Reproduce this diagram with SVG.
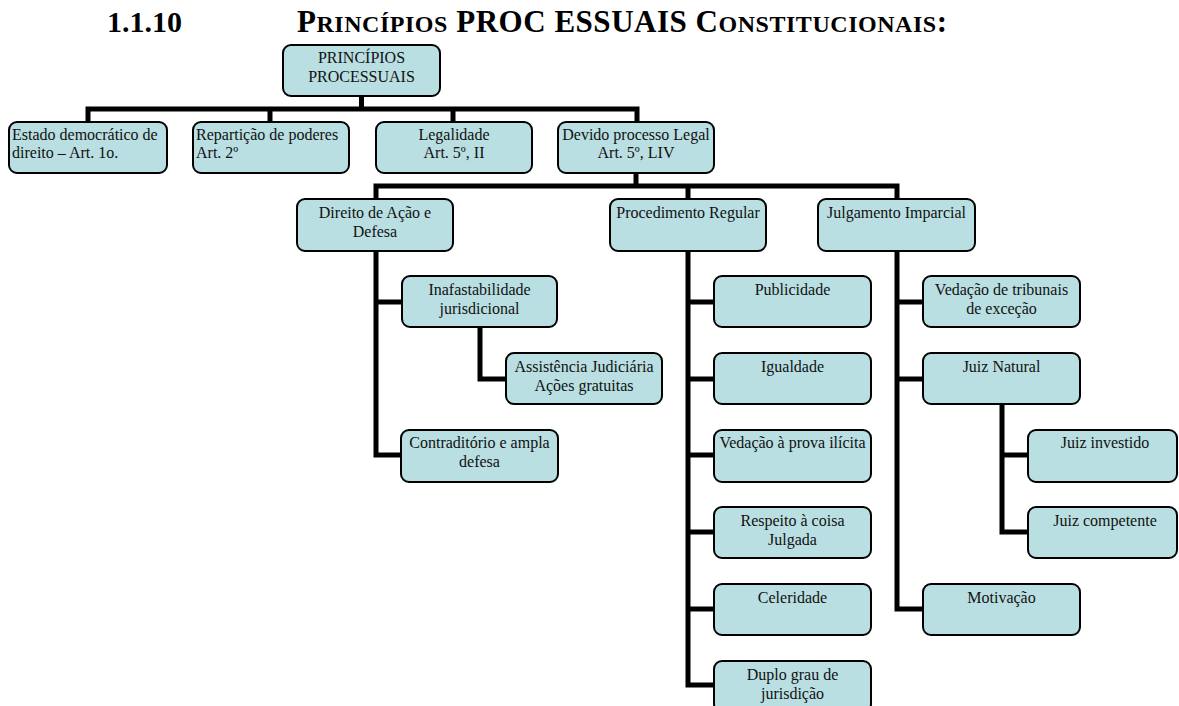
<svg xmlns="http://www.w3.org/2000/svg" width="1179" height="706" viewBox="0 0 1179 706">
  <style>
    .box { fill: #b9dfe2; stroke: #000; stroke-width: 2; }
    .t { font-family: "Liberation Serif", "Times New Roman", serif; font-size: 16px; fill: #111; }
    .c { text-anchor: middle; }
    .wire { fill: none; stroke: #000; stroke-width: 5; stroke-linejoin: miter; }
    .head { font-family: "Liberation Serif", "Times New Roman", serif; font-weight: bold; fill: #000; }
  </style>

  <!-- heading -->
  <g id="heading">
    <text class="head" x="107" y="32" font-size="30">1.1.10</text>
    <text class="head" x="297" y="32" font-size="31" textLength="650" lengthAdjust="spacing">P<tspan font-size="24">RINCÍPIOS</tspan> PROC ESSUAIS C<tspan font-size="24">ONSTITUCIONAIS</tspan>:</text>
  </g>

  <!-- connectors -->
  <g id="connectors" class="wire">
    <path d="M361.5,96 V109"/>
    <path d="M88,122 V109 H637 V122"/>
    <path d="M270,109 V122"/>
    <path d="M453,109 V122"/>
    <path d="M636,173 V186"/>
    <path d="M376,199 V186 H897 V199"/>
    <path d="M688,186 V199"/>
    <path d="M376,251 V455 H401"/>
    <path d="M376,302 H402"/>
    <path d="M480,327 V379 H506"/>
    <path d="M688,251 V685 H714"/>
    <path d="M688,302 H714"/>
    <path d="M688,379 H714"/>
    <path d="M688,455 H714"/>
    <path d="M688,532 H714"/>
    <path d="M688,609 H714"/>
    <path d="M897,251 V609 H923"/>
    <path d="M897,302 H923"/>
    <path d="M897,379 H923"/>
    <path d="M1002,404 V532 H1028"/>
    <path d="M1002,455 H1028"/>
  </g>

  <!-- root -->
  <g id="principios-processuais">
    <rect class="box" x="283" y="45" width="157" height="51" rx="8"/>
    <text class="t c" x="361.5" y="63">PRINCÍPIOS</text>
    <text class="t c" x="361.5" y="82">PROCESSUAIS</text>
  </g>

  <!-- first level -->
  <g id="estado-democratico">
    <rect class="box" x="9" y="122" width="158" height="51" rx="8"/>
    <text class="t" x="12" y="140">Estado democrático de</text>
    <text class="t" x="12" y="158">direito – Art. 1o.</text>
  </g>
  <g id="reparticao-poderes">
    <rect class="box" x="193" y="122" width="156" height="51" rx="8"/>
    <text class="t" x="196" y="140">Repartição de poderes</text>
    <text class="t" x="196" y="158">Art. 2º</text>
  </g>
  <g id="legalidade">
    <rect class="box" x="376" y="122" width="156" height="51" rx="8"/>
    <text class="t c" x="454" y="140">Legalidade</text>
    <text class="t c" x="454" y="158">Art. 5º, II</text>
  </g>
  <g id="devido-processo">
    <rect class="box" x="558" y="122" width="156" height="51" rx="8"/>
    <text class="t c" x="636" y="140">Devido processo Legal</text>
    <text class="t c" x="636" y="158">Art. 5º, LIV</text>
  </g>

  <!-- second level -->
  <g id="direito-acao">
    <rect class="box" x="297" y="199" width="156" height="52" rx="8"/>
    <text class="t c" x="375" y="217.5">Direito de Ação e</text>
    <text class="t c" x="375" y="236.5">Defesa</text>
  </g>
  <g id="procedimento-regular">
    <rect class="box" x="610" y="199" width="156" height="52" rx="8"/>
    <text class="t c" x="688" y="217.5">Procedimento Regular</text>
  </g>
  <g id="julgamento-imparcial">
    <rect class="box" x="818" y="199" width="157" height="52" rx="8"/>
    <text class="t c" x="896.5" y="217.5">Julgamento Imparcial</text>
  </g>

  <!-- under Direito de Ação e Defesa -->
  <g id="inafastabilidade">
    <rect class="box" x="402" y="276" width="155" height="51" rx="8"/>
    <text class="t c" x="479.5" y="294.5">Inafastabilidade</text>
    <text class="t c" x="479.5" y="313.5">jurisdicional</text>
  </g>
  <g id="assistencia-judiciaria">
    <rect class="box" x="506" y="353" width="156" height="51" rx="8"/>
    <text class="t c" x="584" y="371.5">Assistência Judiciária</text>
    <text class="t c" x="584" y="390.5">Ações gratuitas</text>
  </g>
  <g id="contraditorio">
    <rect class="box" x="401" y="430" width="157" height="52" rx="8"/>
    <text class="t c" x="479.5" y="448">Contraditório e ampla</text>
    <text class="t c" x="479.5" y="467">defesa</text>
  </g>

  <!-- under Procedimento Regular -->
  <g id="publicidade">
    <rect class="box" x="714" y="276" width="157" height="51" rx="8"/>
    <text class="t c" x="792.5" y="294.5">Publicidade</text>
  </g>
  <g id="igualdade">
    <rect class="box" x="714" y="353" width="157" height="51" rx="8"/>
    <text class="t c" x="792.5" y="371.5">Igualdade</text>
  </g>
  <g id="prova-ilicita">
    <rect class="box" x="714" y="430" width="157" height="52" rx="8"/>
    <text class="t c" x="792.5" y="448">Vedação à prova ilícita</text>
  </g>
  <g id="coisa-julgada">
    <rect class="box" x="714" y="507" width="157" height="51" rx="8"/>
    <text class="t c" x="792.5" y="525.5">Respeito à coisa</text>
    <text class="t c" x="792.5" y="544.5">Julgada</text>
  </g>
  <g id="celeridade">
    <rect class="box" x="714" y="584" width="157" height="51" rx="8"/>
    <text class="t c" x="792.5" y="602.5">Celeridade</text>
  </g>
  <g id="duplo-grau">
    <rect class="box" x="714" y="661" width="157" height="51" rx="8"/>
    <text class="t c" x="792.5" y="679.5">Duplo grau de</text>
    <text class="t c" x="792.5" y="698.5">jurisdição</text>
  </g>

  <!-- under Julgamento Imparcial -->
  <g id="tribunais-excecao">
    <rect class="box" x="923" y="276" width="157" height="51" rx="8"/>
    <text class="t c" x="1001.5" y="294.5">Vedação de tribunais</text>
    <text class="t c" x="1001.5" y="313.5">de exceção</text>
  </g>
  <g id="juiz-natural">
    <rect class="box" x="923" y="353" width="157" height="51" rx="8"/>
    <text class="t c" x="1001.5" y="371.5">Juiz Natural</text>
  </g>
  <g id="juiz-investido">
    <rect class="box" x="1028" y="430" width="149" height="52" rx="8"/>
    <text class="t c" x="1105" y="448">Juiz investido</text>
  </g>
  <g id="juiz-competente">
    <rect class="box" x="1028" y="507" width="149" height="51" rx="8"/>
    <text class="t c" x="1105" y="525.5">Juiz competente</text>
  </g>
  <g id="motivacao">
    <rect class="box" x="923" y="584" width="157" height="51" rx="8"/>
    <text class="t c" x="1001.5" y="602.5">Motivação</text>
  </g>
</svg>
